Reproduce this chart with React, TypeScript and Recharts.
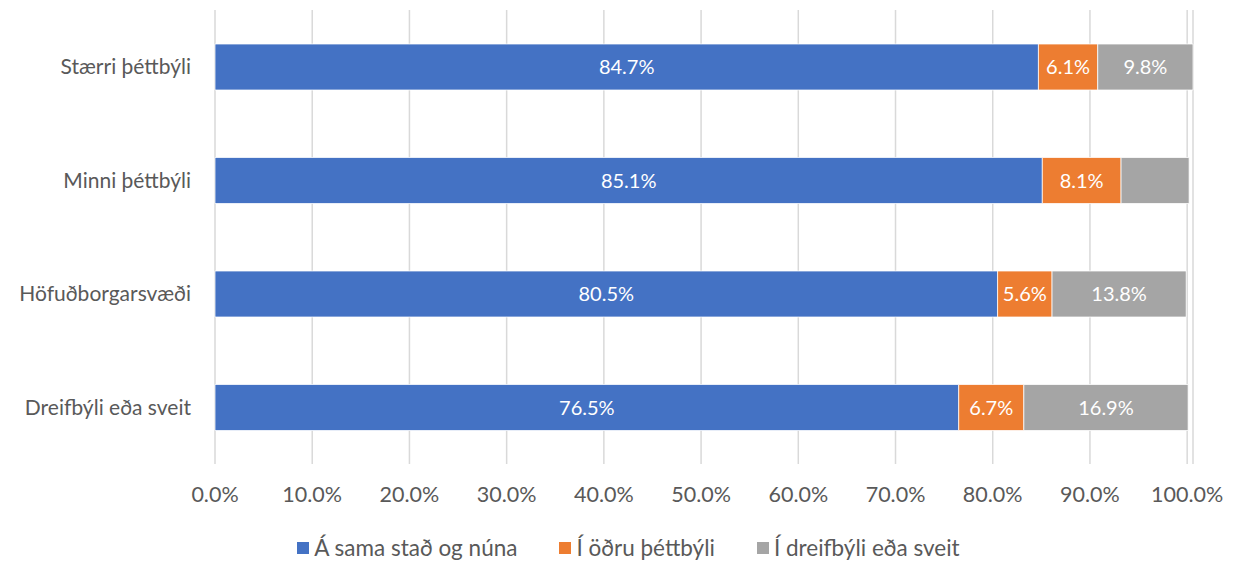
import React from "react";
import {
  BarChart,
  Bar,
  XAxis,
  YAxis,
  CartesianGrid,
  Legend,
  LabelList,
} from "recharts";

const categories = [
  "Stærri þéttbýli",
  "Minni þéttbýli",
  "Höfuðborgarsvæði",
  "Dreifbýli eða sveit",
];
const samaStad = [84.7, 85.1, 80.5, 76.5];
const odruThettbyli = [6.1, 8.1, 5.6, 6.7];
const dreifbyli = [9.8, 7.0, 13.8, 16.9];
// the grey value for "Minni þéttbýli" carries no label in the original
const dreifbyliLabelShown = [true, false, true, true];
const xTicks = [0, 10, 20, 30, 40, 50, 60, 70, 80, 90, 100];

const seriesNames = ["Á sama stað og núna", "Í öðru þéttbýli", "Í dreifbýli eða sveit"];
const colors = ["#4472C4", "#ED7D31", "#A5A5A5"];

const data = categories.map((name, i) => ({
  name,
  a: samaStad[i],
  b: odruThettbyli[i],
  c: dreifbyli[i],
  cLabel: dreifbyliLabelShown[i] ? `${dreifbyli[i].toFixed(1)}%` : "",
}));

const font = "Lato, 'Open Sans', sans-serif";
const textColor = "#595959";
const pct = (v: any) => `${Number(v).toFixed(1)}%`;

const renderLegend = () => (
  <div
    style={{
      display: "flex",
      justifyContent: "center",
      fontFamily: font,
      fontSize: 22.5,
      color: textColor,
      paddingTop: 6,
      paddingLeft: 64,
    }}
  >
    {seriesNames.map((n, i) => (
      <div key={n} style={{ display: "flex", alignItems: "center", marginRight: i < 2 ? 42 : 0 }}>
        <span style={{ width: 12, height: 12, background: colors[i], marginRight: 5, display: "inline-block" }} />
        <span>{n}</span>
      </div>
    ))}
  </div>
);

export default function App() {
  return (
    <div style={{ position: "absolute", left: 0, top: 0, background: "#fff" }}>
      <BarChart
        width={1234}
        height={561}
        data={data}
        layout="vertical"
        margin={{ top: 10, right: 41, bottom: 0, left: 0 }}
      >
        <CartesianGrid horizontal={false} stroke="#D9D9D9" strokeWidth={1.5} />
        <XAxis
          type="number"
          domain={[0, 100]}
          ticks={xTicks}
          tickFormatter={pct}
          axisLine={false}
          tickLine={false}
          tickMargin={17}
          height={64}
          tick={{ fill: textColor, fontSize: 21.5, fontFamily: font }}
        />
        <YAxis
          type="category"
          dataKey="name"
          width={215}
          axisLine={false}
          tickLine={false}
          tickSize={0}
          tickMargin={24}
          tick={{ fill: textColor, fontSize: 21, fontFamily: font }}
        />
        <Legend verticalAlign="bottom" content={renderLegend} />
        <Bar dataKey="a" stackId="s" fill={colors[0]} barSize={46} stroke="#ffffff" strokeWidth={0.75} isAnimationActive={false}>
          <LabelList dataKey="a" position="center" formatter={pct} fill="#ffffff" fontSize={20} fontFamily={font} />
        </Bar>
        <Bar dataKey="b" stackId="s" fill={colors[1]} barSize={46} stroke="#ffffff" strokeWidth={0.75} isAnimationActive={false}>
          <LabelList dataKey="b" position="center" formatter={pct} fill="#ffffff" fontSize={20} fontFamily={font} />
        </Bar>
        <Bar dataKey="c" stackId="s" fill={colors[2]} barSize={46} stroke="#ffffff" strokeWidth={0.75} isAnimationActive={false}>
          <LabelList dataKey="cLabel" position="center" fill="#ffffff" fontSize={20} fontFamily={font} />
        </Bar>
      </BarChart>
    </div>
  );
}
